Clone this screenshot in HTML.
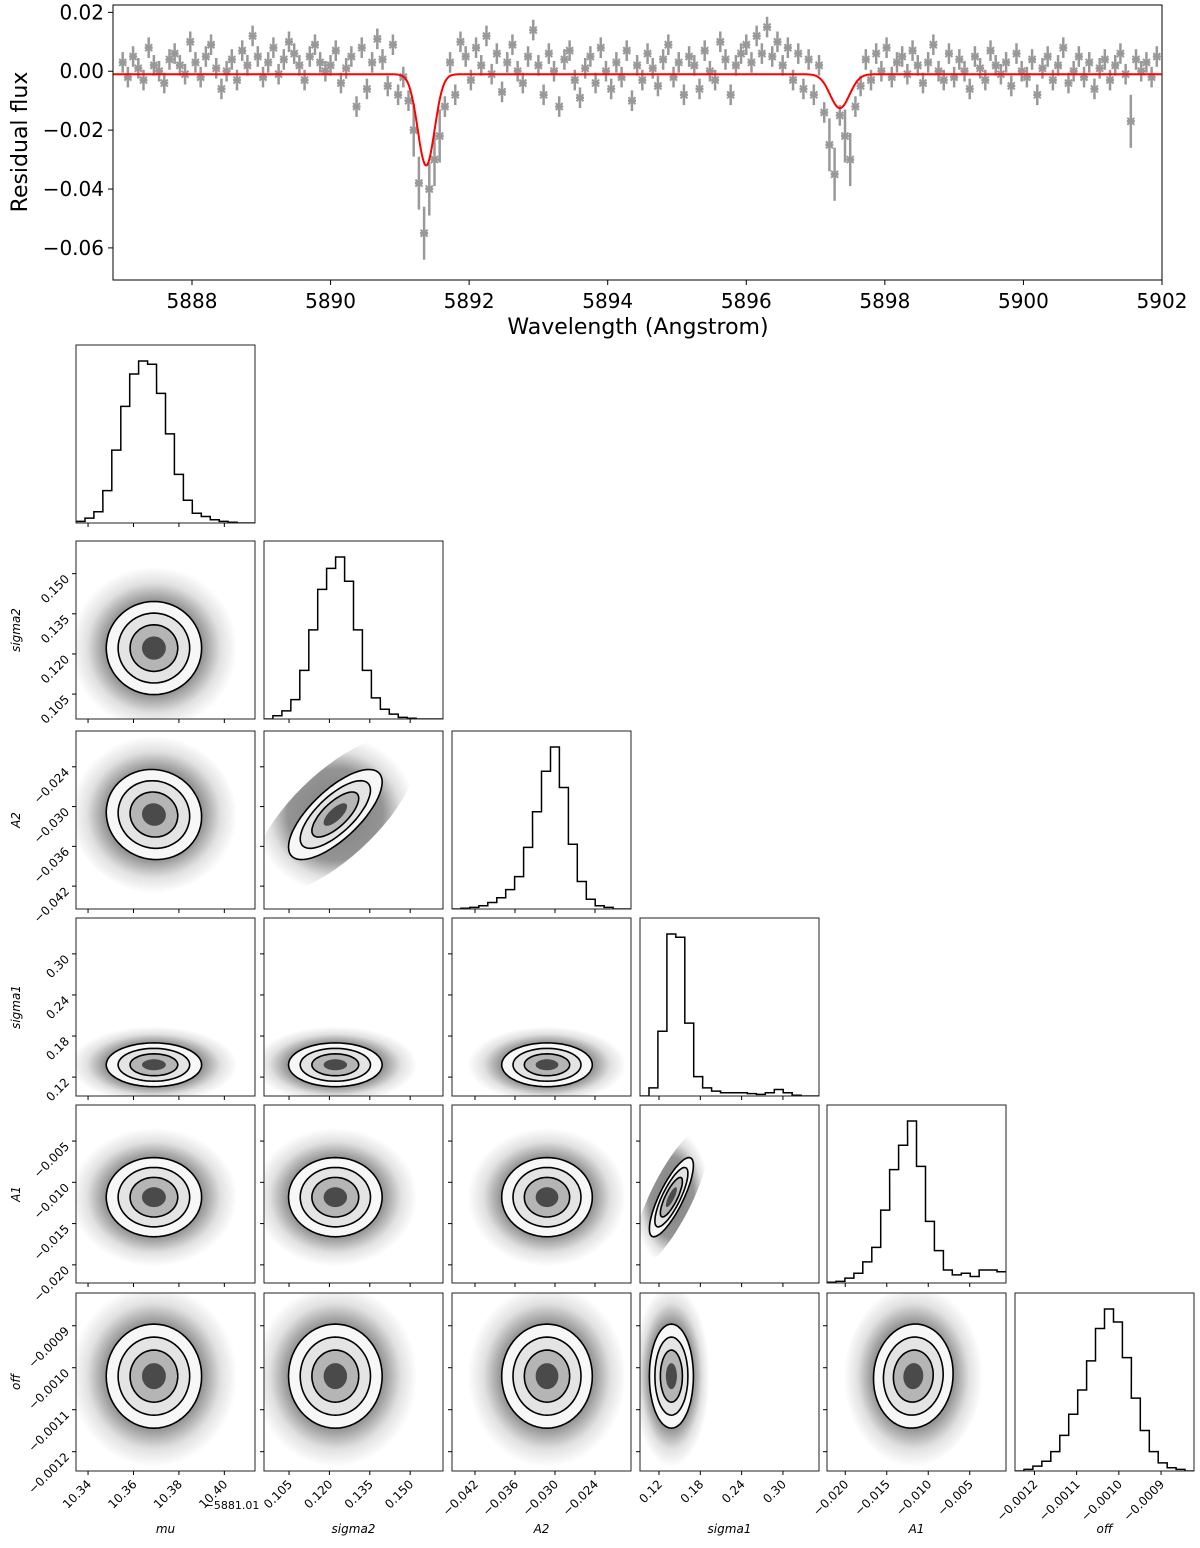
<!DOCTYPE html>
<html><head><meta charset="utf-8"><style>
body{margin:0;background:#fff}
svg{display:block;font-family:"DejaVu Sans","Liberation Sans",sans-serif}
</style></head><body>
<svg id="fig" width="1200" height="1548" viewBox="0 0 1200 1548"></svg>
<script>
// ---------- top spectrum data ----------
const waveStart = 5887.0, waveStep = 0.075;
const residualMilli = [
3,-2,5,1,-3,8,2,0,-4,4,
6,2,-1,10,3,-2,5,9,1,-6,
0,4,-3,7,2,12,5,-2,3,8,
-1,4,10,6,2,-3,5,9,3,0,
2,7,-4,1,5,-12,8,-6,3,11,
4,-5,9,-8,-2,-10,-20,-38,-55,-40,
-30,-22,-12,3,-8,10,5,-3,8,2,
12,-1,6,-7,3,9,0,-4,5,14,
2,-8,6,0,-12,4,7,-3,-9,1,
5,-4,8,0,-6,3,-2,7,-10,2,
-3,6,1,-5,4,9,-2,3,-8,5,
2,-6,7,0,-3,10,4,-8,2,6,
9,3,12,6,15,5,10,2,8,-3,
6,-6,4,-8,2,-14,-25,-35,-15,-22,
-30,-12,-5,4,-3,6,0,8,-2,3,
5,-1,7,2,-4,3,9,0,-3,6,
-2,4,0,-6,5,1,-3,7,2,-1,
3,-5,6,0,-2,4,-8,1,5,-3,
2,8,-4,0,5,-2,3,-6,1,4,
-3,2,6,-1,-17,4,0,3,-2,5];
const xTicksTop = [5888,5890,5892,5894,5896,5898,5900,5902];
const yTicksTop = [0.02,0.00,-0.02,-0.04,-0.06];
const yTickLabelsTop = ["0.02","0.00","\u22120.02","\u22120.04","\u22120.06"];
const line2 = {center:5891.38, sigma:0.122, amp:-0.031};
const line1 = {center:5897.35, sigma:0.14, amp:-0.0115};
const modelOffset = -0.00102;

// ---------- corner data ----------
const paramNames = ["mu","sigma2","A2","sigma1","A1","off"];
const paramLo = [10.3347,0.0957,-0.04545,0.0924,-0.0222,-0.001246];
const paramHi = [10.4135,0.1622,-0.0186,0.3524,-0.00063,-0.000822];
const paramMean = [10.369,0.1222,-0.0312,0.138,-0.0118,-0.00102];
const paramSd = [0.0105,0.0087,0.0034,0.016,0.0024,0.000062];
const corrPairs = [[1,2,0.72],[3,4,0.8],[0,2,-0.05],[4,5,0.05]];
const tickVals = [[10.34,10.36,10.38,10.40],[0.105,0.120,0.135,0.150],[-0.042,-0.036,-0.030,-0.024],[0.12,0.18,0.24,0.30],[-0.020,-0.015,-0.010,-0.005],[-0.0012,-0.0011,-0.0010,-0.0009]];
const tickLabels = [["10.34","10.36","10.38","10.40"],["0.105","0.120","0.135","0.150"],["\u22120.042","\u22120.036","\u22120.030","\u22120.024"],["0.12","0.18","0.24","0.30"],["\u22120.020","\u22120.015","\u22120.010","\u22120.005"],["\u22120.0012","\u22120.0011","\u22120.0010","\u22120.0009"]];
const histMu = [0.01,0.03,0.07,0.2,0.45,0.72,0.92,1.0,0.98,0.8,0.55,0.3,0.14,0.06,0.04,0.02,0.01,0.005,0,0];
const histSigma2 = [0,0.02,0.05,0.12,0.3,0.55,0.8,0.93,1.0,0.85,0.55,0.3,0.13,0.06,0.03,0.01,0.005,0,0,0];
const histA2 = [0,0.005,0.01,0.02,0.04,0.07,0.12,0.2,0.38,0.6,0.85,1.0,0.75,0.4,0.17,0.06,0.02,0.01,0,0];
const histSigma1 = [0,0.05,0.4,1.0,0.98,0.45,0.12,0.05,0.03,0.02,0.02,0.02,0.015,0.01,0.02,0.04,0.02,0.005,0,0];
const histA1 = [0.005,0.01,0.03,0.06,0.13,0.22,0.45,0.7,0.85,1.0,0.72,0.38,0.2,0.08,0.05,0.06,0.04,0.08,0.08,0.07];
const histOff = [0,0.01,0.03,0.06,0.12,0.22,0.35,0.5,0.68,0.88,1.0,0.92,0.7,0.45,0.25,0.12,0.05,0.02,0.01,0];

const NS="http://www.w3.org/2000/svg";
const svgRoot=document.getElementById('fig');
function el(tag,attrs,parent){const e=document.createElementNS(NS,tag);for(const k in attrs)e.setAttribute(k,attrs[k]);(parent||svgRoot).appendChild(e);return e;}

// ---------- top panel ----------
const T={x0:113,x1:1162,y0:5,y1:280,wl:5886.86,wh:5902,fl:0.0225,fh:-0.0709};
const sxT=w=>T.x0+(w-T.wl)/(T.wh-T.wl)*(T.x1-T.x0);
const syT=f=>T.y0+(f-T.fl)/(T.fh-T.fl)*(T.y1-T.y0);
const topG=el('g',{});


const dataG=el('g',{},topG);


residualMilli.forEach((v,i)=>{
  const w=waveStart+i*waveStep, f=v/1000;
  if(w<T.wl||w>T.wh) return;
  const err=Math.abs(v)>15?0.009:0.0035;
  const x=sxT(w), y=syT(f);
  const g=el('g',{stroke:'#999','stroke-width':2.5},dataG);
  
  
  el('line',{x1:x,x2:x,y1:syT(f+err),y2:syT(f-err)},g);
  el('line',{x1:x-4,x2:x+4,y1:y,y2:y},g);
  el('path',{d:`M${x-3.5},${y-3.5}L${x+3.5},${y+3.5}M${x+3.5},${y-3.5}L${x-3.5},${y+3.5}`,'stroke-width':2},g);
});
let dModel='';
for(let w=T.wl;w<=T.wh;w+=0.01){
  const f=modelOffset+line2.amp*Math.exp(-Math.pow(w-line2.center,2)/(2*line2.sigma*line2.sigma))+line1.amp*Math.exp(-Math.pow(w-line1.center,2)/(2*line1.sigma*line1.sigma));
  dModel+=(dModel?'L':'M')+sxT(w).toFixed(1)+','+syT(f).toFixed(1);
}
const model=el('path',{d:dModel,fill:'none',stroke:'#f00','stroke-width':2},topG);


el('rect',{x:T.x0,y:T.y0,width:T.x1-T.x0,height:T.y1-T.y0,fill:'none',stroke:'#000','stroke-width':1},topG);
xTicksTop.forEach(t=>{const x=sxT(t);el('line',{x1:x,x2:x,y1:T.y1,y2:T.y1+5,stroke:'#000'},topG);
  const tx=el('text',{x:x,y:T.y1+28,'font-size':20,'text-anchor':'middle'},topG);tx.textContent=t;
  });
yTicksTop.forEach((t,i)=>{const y=syT(t);el('line',{x1:T.x0-5,x2:T.x0,y1:y,y2:y,stroke:'#000'},topG);
  const tx=el('text',{x:T.x0-9,y:y+7,'font-size':20,'text-anchor':'end'},topG);tx.textContent=yTickLabelsTop[i];
  });
const xt=el('text',{x:638,y:334,'font-size':22,'text-anchor':'middle'},topG);xt.textContent='Wavelength (Angstrom)';

const yt=el('text',{x:0,y:0,'font-size':22,'text-anchor':'middle',transform:'translate(27,142) rotate(-90)'},topG);yt.textContent='Residual flux';


// ---------- corner ----------
const colX=[76,264,452,640,827,1015], rowY=[345,541,731,918,1105,1293], PW=179, PH=178;
const hists=[histMu,histSigma2,histA2,histSigma1,histA1,histOff];
const sx=(p,v,c)=>colX[c]+(v-paramLo[p])/(paramHi[p]-paramLo[p])*PW;
const sy=(p,v,r)=>rowY[r]+PH-(v-paramLo[p])/(paramHi[p]-paramLo[p])*PH;
function corr(a,b){for(const c of corrPairs){if((c[0]===a&&c[1]===b)||(c[0]===b&&c[1]===a))return c[2];}return 0;}
const defsEl=el('defs',{});
const rg=el('radialGradient',{id:'cloud'},defsEl);
el('stop',{offset:'0%','stop-color':'#000','stop-opacity':0.5},rg);
el('stop',{offset:'58%','stop-color':'#000','stop-opacity':0.42},rg);
el('stop',{offset:'80%','stop-color':'#000','stop-opacity':0.12},rg);
el('stop',{offset:'100%','stop-color':'#000','stop-opacity':0},rg);
function ellipsePath(px,py,r,c,k){
  const mx=sx(px,paramMean[px],c), my=sy(py,paramMean[py],r);
  const ax=paramSd[px]/(paramHi[px]-paramLo[px])*PW, ay=paramSd[py]/(paramHi[py]-paramLo[py])*PH;
  const rho=corr(px,py);let s='';
  for(let i=0;i<=60;i++){const t=i/60*2*Math.PI;
    const x=mx+k*ax*Math.cos(t), y=my-k*ay*(rho*Math.cos(t)+Math.sqrt(1-rho*rho)*Math.sin(t));
    s+=(i?'L':'M')+x.toFixed(1)+','+y.toFixed(1);}
  return s+'Z';
}
for(let r=0;r<6;r++){for(let c=0;c<=r;c++){
  const g=el('g',{});
  
  
  const cp=el('clipPath',{id:'cp'+r+c},defsEl);el('rect',{x:colX[c],y:rowY[r],width:PW,height:PH},cp);
  const inner=el('g',{'clip-path':`url(#cp${r}${c})`},g);
  if(c===r){
    const h=hists[c];let s='';const bw=PW/h.length;
    h.forEach((v,i)=>{const y=rowY[r]+PH-v*PH*0.91;const x=colX[c]+i*bw;s+=(i?'L':'M')+x.toFixed(1)+','+y.toFixed(1)+'L'+(x+bw).toFixed(1)+','+y.toFixed(1);});
    el('path',{d:s,fill:'none',stroke:'#000','stroke-width':1.5},inner);
  } else {
    const px=c,py=r;
    el('path',{d:ellipsePath(px,py,r,c,3.5),fill:'url(#cloud)'},inner);
    const levels=[[2.0,'#f7f7f7'],[1.5,'#e4e4e4'],[1.0,'#b5b5b5'],[0.5,'#4a4a4a']];
    levels.forEach(([k,col])=>el('path',{d:ellipsePath(px,py,r,c,k),fill:col,stroke:'none'},inner));
    [2.0,1.5,1.0].forEach(k=>el('path',{d:ellipsePath(px,py,r,c,k),fill:'none',stroke:'#000','stroke-width':1.6},inner));
  }
  el('rect',{x:colX[c],y:rowY[r],width:PW,height:PH,fill:'none',stroke:'#222','stroke-width':1},g);
  tickVals[c].forEach((t,i)=>{const x=sx(c,t,c);el('line',{x1:x,x2:x,y1:rowY[r]+PH,y2:rowY[r]+PH+4,stroke:'#000'},g);
    if(r===5){const tx=el('text',{x:0,y:0,'font-size':12,'text-anchor':'end',transform:`translate(${x+4},${rowY[r]+PH+14}) rotate(-45)`},g);tx.textContent=tickLabels[c][i];
      }});
  if(c!==r){tickVals[r].forEach((t,i)=>{const y=sy(r,t,r);el('line',{x1:colX[c]-4,x2:colX[c],y1:y,y2:y,stroke:'#000'},g);
    if(c===0){const tx=el('text',{x:0,y:0,'font-size':12,'text-anchor':'end',transform:`translate(${colX[c]-6},${y+6}) rotate(-45)`},g);tx.textContent=tickLabels[r][i];
      }});}
}}
paramNames.forEach((n,i)=>{
  const tx=el('text',{x:colX[i]+PW/2,y:1533,'font-size':12,'font-style':'italic','text-anchor':'middle'});tx.textContent=n;
  
  if(i>0){const ty=el('text',{x:0,y:0,'font-size':12,'font-style':'italic','text-anchor':'middle',transform:`translate(20,${rowY[i]+PH/2}) rotate(-90)`});ty.textContent=n;
    }
});
const offLbl=el('text',{x:232,y:1509,'font-size':11,'text-anchor':'middle'});offLbl.textContent='\u22125881.01';

</script>
</body></html>
